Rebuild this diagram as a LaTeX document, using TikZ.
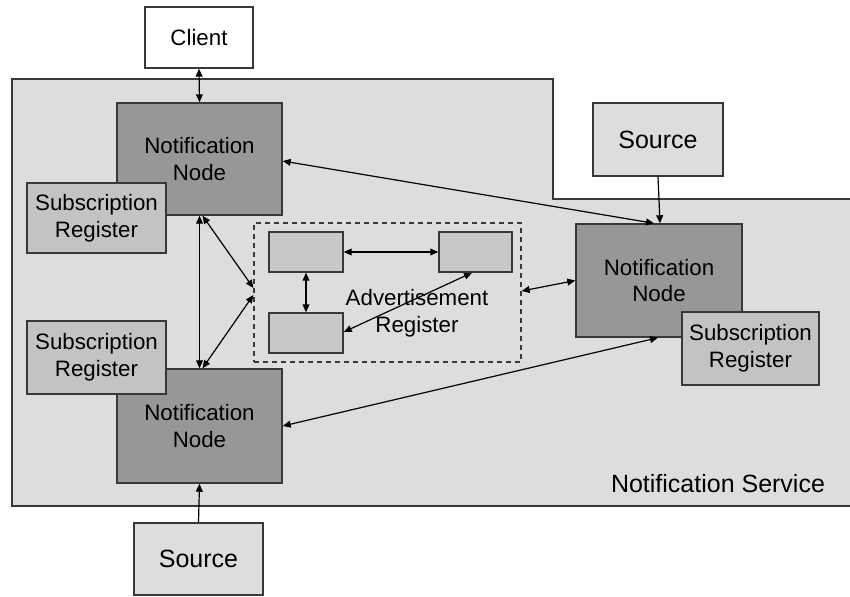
\documentclass[tikz,border=0pt]{standalone}
\usepackage{fontspec}
\setmainfont{Liberation Sans}
\usetikzlibrary{arrows.meta}
\definecolor{svcgray}{HTML}{DDDDDD}
\definecolor{nngray}{HTML}{979797}
\definecolor{srgray}{HTML}{C3C3C3}
\definecolor{adgray}{HTML}{C8C8C8}
\definecolor{bordergray}{HTML}{383838}
\tikzset{
  box/.style={draw=bordergray, line width=0.7pt, inner sep=0pt, align=center, font=\fontsize{11.15}{13.3}\selectfont},
  nnbox/.style={box, fill=nngray, minimum width=82.5pt, minimum height=56pt},
  srbox/.style={box, fill=srgray, minimum width=69.5pt, minimum height=36pt},
  srcbox/.style={box, fill=svcgray, minimum width=65pt, minimum height=36.5pt, font=\fontsize{12.5}{15}\selectfont},
  adbox/.style={box, fill=adgray, minimum width=37pt, minimum height=20pt},
  conn/.style={line width=0.6pt, black, {Triangle[length=4pt,width=3.4pt]}-{Triangle[length=4pt,width=3.4pt]}},
  conn1/.style={line width=0.6pt, black, -{Triangle[length=4pt,width=3.4pt]}},
}
\begin{document}
\begin{tikzpicture}[x=0.5pt,y=-0.5pt]
\useasboundingbox (0,0) rectangle (850,596);
% Notification service region
\fill[svcgray] (12,79) -- (553,79) -- (553,199) -- (850,199) -- (850,506) -- (12,506) -- cycle;
\draw[bordergray, line width=0.8pt] (850,199) -- (553,199) -- (553,79) -- (12,79) -- (12,506) -- (850,506);
\node[font=\fontsize{12.5}{15}\selectfont] (svc) at (718,484) {Notification Service};

% Client
\node[box, fill=white, minimum width=54pt, minimum height=30.5pt] (client) at (199,37.5) {Client};

% Notification nodes and subscription registers
\node[nnbox] (nn1) at (199.5,159) {Notification\\Node};
\node[srbox, minimum height=35pt] (sr1) at (96.5,218) {Subscription\\Register};
\node[nnbox, minimum height=57pt] (nn2) at (199.5,426) {Notification\\Node};
\node[srbox, minimum height=36.5pt] (sr2) at (96.5,357.5) {Subscription\\Register};
\node[nnbox, minimum width=83pt, minimum height=56.5pt] (nn3) at (659,280.5) {Notification\\Node};
\node[srbox, minimum width=68.5pt, minimum height=36.5pt] (sr3) at (750.5,348.5) {Subscription\\Register};

% Sources
\node[srcbox] (src1) at (658,139.5) {Source};
\node[srcbox, minimum width=64.5pt, minimum height=36pt] (src2) at (198.5,559) {Source};

% Advertisement register
\node[draw=bordergray, line width=0.6pt, dash pattern=on 2.5pt off 2pt, minimum width=133.5pt, minimum height=69.5pt, inner sep=0pt] (adv) at (387.5,292.5) {};
\node[adbox] (a) at (306,252) {};
\node[adbox, minimum width=36.5pt] (b) at (475.5,252) {};
\node[adbox] (c) at (306,333) {};
\node[font=\fontsize{11.15}{13.3}\selectfont, align=center] (advlabel) at (417,313) {Advertisement\\Register};

% Connectors
\draw[conn] (client.south) -- (nn1.north);
\draw[conn] (nn1.south) -- (nn2.north);
\draw[conn] ([xshift=1.5pt]nn1.south) -- ([yshift=2.25pt]adv.west);
\draw[conn] ([yshift=-1.25pt]adv.west) -- ([xshift=1.5pt]nn2.north);
\draw[conn] ([yshift=-1pt]nn1.east) -- ([xshift=-2.5pt]nn3.north);
\draw[conn1] (src1.south) -- ([xshift=0.5pt]nn3.north);
\draw[conn] ([yshift=0.75pt]adv.east) -- (nn3.west);
\draw[conn] (nn2.east) -- ([xshift=-0.5pt]nn3.south);
\draw[conn1] (src2.north) -- (nn2.south);
\draw[conn] (a.east) -- (b.west);
\draw[conn] (a.south) -- (c.north);
\draw[conn] ([xshift=-1.75pt]b.south) -- ([yshift=0.5pt]c.east);
\end{tikzpicture}
\end{document}
